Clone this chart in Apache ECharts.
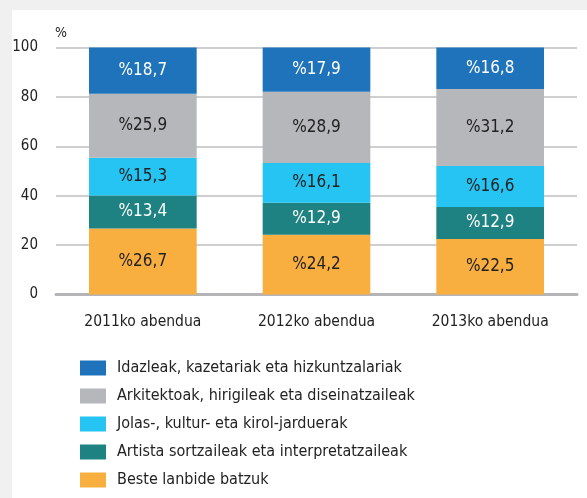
<!DOCTYPE html>
<html>
<head>
<meta charset="utf-8">
<script src="https://cdn.jsdelivr.net/npm/echarts@6/dist/echarts.min.js"></script>
<style>
  html, body { margin: 0; padding: 0; background: #f0f0f0; }
  #chart { position: absolute; left: 12px; top: 10px; width: 575px; height: 488px; background: #fff; }
</style>
</head>
<body>
<div id="chart"></div>
<script>
// kategoriak
const categories = ['2011ko abendua', '2012ko abendua', '2013ko abendua'];

// serieak (ehunekoak)
const idazleak = [18.7, 17.9, 16.8];
const arkitektoak = [25.9, 28.9, 31.2];
const jolas = [15.3, 16.1, 16.6];
const artista = [13.4, 12.9, 12.9];
const beste = [26.7, 24.2, 22.5];

const seriesNames = [
    'Idazleak, kazetariak eta hizkuntzalariak',
    'Arkitektoak, hirigileak eta diseinatzaileak',
    'Jolas-, kultur- eta kirol-jarduerak',
    'Artista sortzaileak eta interpretatzaileak',
    'Beste lanbide batzuk'
];

const yTicks = [0, 20, 40, 60, 80, 100];

const font = '"DejaVu Sans Condensed", sans-serif';

// behetik gora pilatzeko ordena
const stackOrder = [
    { name: seriesNames[4], data: beste, color: '#f9ae40', text: '#222' },
    { name: seriesNames[3], data: artista, color: '#1f8282', text: '#fff' },
    { name: seriesNames[2], data: jolas, color: '#25c4f2', text: '#222' },
    { name: seriesNames[1], data: arkitektoak, color: '#b6b7ba', text: '#222' },
    { name: seriesNames[0], data: idazleak, color: '#1f73bb', text: '#fff' }
];

const chart = echarts.init(document.getElementById('chart'));

chart.setOption({
    animation: false,
    textStyle: { fontFamily: font },
    grid: { left: 44, right: 10, top: 37.5, bottom: 203.5, outerBoundsMode: 'none', containLabel: false },
    legend: {
        orient: 'vertical',
        left: 63,
        top: 345,
        height: 200,
        data: seriesNames,
        itemWidth: 26,
        itemHeight: 15,
        itemGap: 12,
        icon: 'rect',
        textStyle: { fontFamily: font, fontSize: 16, color: '#222', padding: [0, 0, 0, 6] }
    },
    xAxis: {
        type: 'category',
        data: categories,
        axisLine: { lineStyle: { color: '#b5b5b8', width: 3 } },
        axisTick: { show: false },
        axisLabel: { color: '#222', fontSize: 15.5, margin: 19 }
    },
    yAxis: {
        type: 'value',
        min: yTicks[0],
        max: yTicks[yTicks.length - 1],
        interval: 20,
        name: '%',
        nameGap: 7,
        nameTextStyle: { color: '#222', fontSize: 14, align: 'left', padding: [0, 0, 0, -1] },
        axisLine: { show: false },
        axisTick: { show: false },
        axisLabel: { color: '#222', fontSize: 15, margin: 18 },
        splitLine: { lineStyle: { color: '#cfcfd1', width: 2 } }
    },
    series: stackOrder.map(s => ({
        name: s.name,
        type: 'bar',
        stack: 'total',
        barWidth: '62%',
        data: s.data,
        itemStyle: { color: s.color },
        label: {
            show: true,
            position: 'inside',
            color: s.text,
            fontSize: 17,
            formatter: p => '%' + p.value.toFixed(1).replace('.', ',')
        }
    }))
});
</script>
</body>
</html>
